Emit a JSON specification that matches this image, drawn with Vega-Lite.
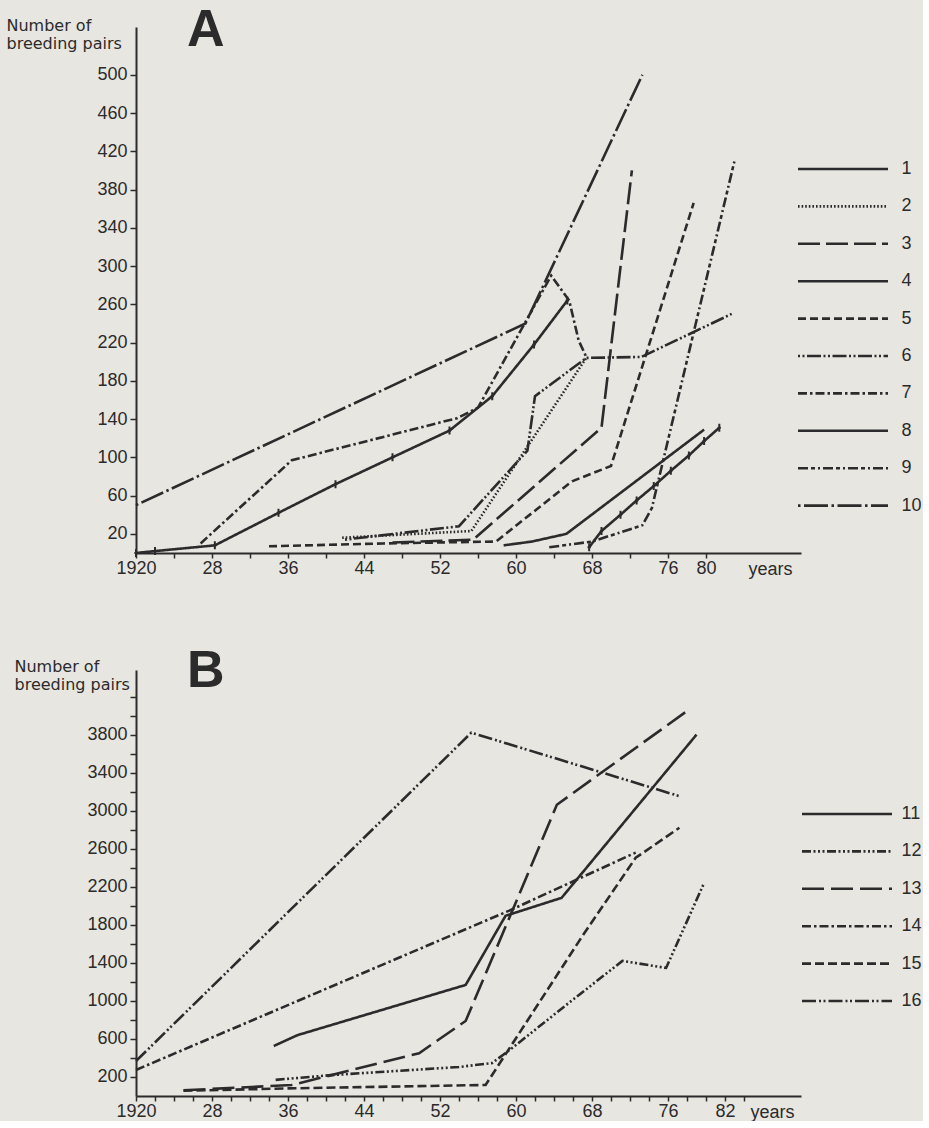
{
  "$schema": "https://vega.github.io/schema/vega-lite/v6.json",
  "background": "#e8e6e1",
  "padding": {"left": 6, "top": 4, "right": 0, "bottom": 0},
  "config": {
    "view": {"stroke": null},
    "font": "Liberation Sans",
    "axis": {"grid": false, "domainColor": "#2b2b2b", "tickColor": "#2b2b2b", "labelColor": "#2b2b2b", "titleColor": "#2b2b2b", "domainWidth": 2, "tickWidth": 1.5, "labelFont": "Liberation Sans", "labelFontSize": 18, "labelOverlap": false, "labelBound": false, "labelFlush": false},
    "legend": {"orient": "none", "title": null, "symbolType": "M-3,0H3", "symbolSize": 900, "symbolStrokeWidth": 2.6, "symbolStrokeColor": "#2b2b2b", "symbolFillColor": "transparent", "labelFont": "Liberation Sans", "labelFontSize": 18, "labelColor": "#2b2b2b", "labelOffset": 42, "rowPadding": 11.4},
    "title": {"font": "Liberation Sans", "fontSize": 52, "fontWeight": "bold", "color": "#2b2b2b", "anchor": "start", "frame": "group"}
  },
  "datasets": {
    "a": [
      {"s": "1", "year": 1920, "pairs": 0}, {"s": "1", "year": 1922, "pairs": 2}, {"s": "1", "year": 1928.3, "pairs": 8}, {"s": "1", "year": 1935, "pairs": 42}, {"s": "1", "year": 1941, "pairs": 72}, {"s": "1", "year": 1947, "pairs": 100}, {"s": "1", "year": 1953, "pairs": 128}, {"s": "1", "year": 1957.5, "pairs": 164}, {"s": "1", "year": 1961.9, "pairs": 218}, {"s": "1", "year": 1965.4, "pairs": 264},
      {"s": "2", "year": 1941.7, "pairs": 16}, {"s": "2", "year": 1955.3, "pairs": 23}, {"s": "2", "year": 1967.4, "pairs": 204},
      {"s": "3", "year": 1947, "pairs": 11}, {"s": "3", "year": 1955.5, "pairs": 14}, {"s": "3", "year": 1969, "pairs": 131}, {"s": "3", "year": 1972.2, "pairs": 400},
      {"s": "4", "year": 1958.7, "pairs": 8}, {"s": "4", "year": 1961.7, "pairs": 12}, {"s": "4", "year": 1965.3, "pairs": 20}, {"s": "4", "year": 1979.8, "pairs": 129},
      {"s": "5", "year": 1934, "pairs": 7}, {"s": "5", "year": 1946, "pairs": 10}, {"s": "5", "year": 1957.9, "pairs": 12}, {"s": "5", "year": 1965.9, "pairs": 75}, {"s": "5", "year": 1970, "pairs": 91}, {"s": "5", "year": 1978.7, "pairs": 366},
      {"s": "6", "year": 1942, "pairs": 14}, {"s": "6", "year": 1954, "pairs": 28}, {"s": "6", "year": 1961.2, "pairs": 107}, {"s": "6", "year": 1962, "pairs": 164}, {"s": "6", "year": 1967.4, "pairs": 204}, {"s": "6", "year": 1973.2, "pairs": 205}, {"s": "6", "year": 1982.7, "pairs": 250},
      {"s": "7", "year": 1926.8, "pairs": 10}, {"s": "7", "year": 1936.4, "pairs": 97}, {"s": "7", "year": 1953.8, "pairs": 141}, {"s": "7", "year": 1956, "pairs": 152}, {"s": "7", "year": 1963.7, "pairs": 290}, {"s": "7", "year": 1965.6, "pairs": 264}, {"s": "7", "year": 1966.6, "pairs": 222}, {"s": "7", "year": 1967.4, "pairs": 205},
      {"s": "8", "year": 1967.7, "pairs": 6}, {"s": "8", "year": 1969, "pairs": 23}, {"s": "8", "year": 1971, "pairs": 40}, {"s": "8", "year": 1972.7, "pairs": 55}, {"s": "8", "year": 1974.5, "pairs": 70}, {"s": "8", "year": 1976.3, "pairs": 86}, {"s": "8", "year": 1978.2, "pairs": 102}, {"s": "8", "year": 1979.8, "pairs": 117}, {"s": "8", "year": 1981.4, "pairs": 131},
      {"s": "9", "year": 1963.5, "pairs": 6}, {"s": "9", "year": 1968, "pairs": 12}, {"s": "9", "year": 1973.3, "pairs": 29}, {"s": "9", "year": 1974.3, "pairs": 47}, {"s": "9", "year": 1983, "pairs": 410},
      {"s": "10", "year": 1920, "pairs": 50}, {"s": "10", "year": 1961, "pairs": 240}, {"s": "10", "year": 1973.3, "pairs": 500}
    ],
    "b": [
      {"s": "11", "year": 1934.5, "pairs": 526}, {"s": "11", "year": 1937, "pairs": 640}, {"s": "11", "year": 1954.7, "pairs": 1168}, {"s": "11", "year": 1958.9, "pairs": 1895}, {"s": "11", "year": 1964.8, "pairs": 2084}, {"s": "11", "year": 1979, "pairs": 3800},
      {"s": "12", "year": 1934.7, "pairs": 170}, {"s": "12", "year": 1940.6, "pairs": 220}, {"s": "12", "year": 1954, "pairs": 305}, {"s": "12", "year": 1957.5, "pairs": 347}, {"s": "12", "year": 1959.6, "pairs": 505}, {"s": "12", "year": 1965.3, "pairs": 958}, {"s": "12", "year": 1971.2, "pairs": 1421}, {"s": "12", "year": 1975.8, "pairs": 1347}, {"s": "12", "year": 1979.8, "pairs": 2240},
      {"s": "13", "year": 1925, "pairs": 60}, {"s": "13", "year": 1936.4, "pairs": 116}, {"s": "13", "year": 1949.8, "pairs": 450}, {"s": "13", "year": 1954.7, "pairs": 789}, {"s": "13", "year": 1959.3, "pairs": 1874}, {"s": "13", "year": 1964.3, "pairs": 3063}, {"s": "13", "year": 1978.2, "pairs": 4063},
      {"s": "14", "year": 1920, "pairs": 274}, {"s": "14", "year": 1959.3, "pairs": 1950}, {"s": "14", "year": 1972.6, "pairs": 2560},
      {"s": "15", "year": 1925, "pairs": 55}, {"s": "15", "year": 1936, "pairs": 80}, {"s": "15", "year": 1956.8, "pairs": 116}, {"s": "15", "year": 1967, "pairs": 1684}, {"s": "15", "year": 1972.6, "pairs": 2505}, {"s": "15", "year": 1977.2, "pairs": 2821},
      {"s": "16", "year": 1920, "pairs": 368}, {"s": "16", "year": 1955.3, "pairs": 3821}, {"s": "16", "year": 1977.4, "pairs": 3147}
    ]
  },
  "bounds": "flush",
  "spacing": 117,
  "resolve": {"scale": {"x": "independent", "y": "independent", "strokeDash": "independent"}, "legend": {"strokeDash": "independent"}},
  "vconcat": [
    {
      "width": 665, "height": 526,
      "title": {"text": "A", "dx": 51, "offset": -40},
      "data": {"name": "a"},
      "layer": [
        {
          "mark": {"type": "line", "strokeWidth": 2.6, "color": "#2b2b2b", "strokeCap": "butt"},
          "encoding": {
            "x": {"field": "year", "type": "quantitative", "scale": {"domain": [1920, 1990], "nice": false, "zero": false},
              "axis": {"values": [1920,1922,1924,1926,1928,1930,1932,1934,1936,1938,1940,1942,1944,1946,1948,1950,1952,1954,1956,1958,1960,1962,1964,1966,1968,1970,1972,1974,1976,1978,1980,1982],
                "labelExpr": "indexof([1920,1928,1936,1944,1952,1960,1968,1976,1980], datum.value) >= 0 ? (datum.value == 1920 ? '1920' : substring(toString(datum.value), 2)) : ''",
                "tickSize": 5, "labelPadding": 1, "title": "years", "titleX": 634, "titleY": 7, "titleBaseline": "top", "titleAlign": "center", "titleFont": "Liberation Sans", "titleFontSize": 18, "titleFontWeight": "normal"}},
            "y": {"field": "pairs", "type": "quantitative", "scale": {"domain": [0, 550], "nice": false},
              "axis": {"values": [20,40,60,80,100,120,140,160,180,200,220,240,260,280,300,320,340,360,380,400,420,440,460,480,500,520],
                "labelExpr": "(datum.value - 20) % 40 == 0 && datum.value <= 500 ? datum.label : ''",
                "tickSize": 6, "labelPadding": 3,
                "title": ["Number  of", "breeding pairs"], "titleAngle": 0, "titleAlign": "left", "titleBaseline": "top", "titleX": -130, "titleY": -10, "titleFont": "DejaVu Sans", "titleFontSize": 16, "titleFontWeight": "normal", "titleLineHeight": 18}},
            "strokeDash": {"field": "s", "type": "nominal",
              "scale": {"domain": ["1","2","3","4","5","6","7","8","9","10"],
                "range": [[1,0],[1.6,2],[22,6],[1,0],[8,4],[2,2.5,2,2.5,14,2.5],[9,3,2.5,3],[1,0],[10,3,4,3,2,3],[2.5,3.5,24,3.5]]},
              "legend": {"legendX": 690.5, "legendY": 125.5}}
          }
        },
        {
          "transform": [{"filter": "datum.s == '1' || datum.s == '8'"}],
          "mark": {"type": "point", "shape": "M0,-1V1M-0.4,0H0.4", "size": 64, "strokeWidth": 2, "color": "#2b2b2b", "opacity": 1, "filled": false},
          "encoding": {
            "x": {"field": "year", "type": "quantitative"},
            "y": {"field": "pairs", "type": "quantitative"}
          }
        }
      ]
    },
    {
      "width": 665, "height": 426,
      "title": {"text": "B", "dx": 51, "offset": -40},
      "data": {"name": "b"},
      "layer": [
        {
          "mark": {"type": "line", "strokeWidth": 2.6, "color": "#2b2b2b", "strokeCap": "butt"},
          "encoding": {
            "x": {"field": "year", "type": "quantitative", "scale": {"domain": [1920, 1990], "nice": false, "zero": false},
              "axis": {"values": [1920,1922,1924,1926,1928,1930,1932,1934,1936,1938,1940,1942,1944,1946,1948,1950,1952,1954,1956,1958,1960,1962,1964,1966,1968,1970,1972,1974,1976,1978,1980,1982,1984],
                "labelExpr": "indexof([1920,1928,1936,1944,1952,1960,1968,1976,1982], datum.value) >= 0 ? (datum.value == 1920 ? '1920' : substring(toString(datum.value), 2)) : ''",
                "tickSize": 5, "labelPadding": 1, "title": "years", "titleX": 636, "titleY": 7, "titleBaseline": "top", "titleAlign": "center", "titleFont": "Liberation Sans", "titleFontSize": 18, "titleFontWeight": "normal"}},
            "y": {"field": "pairs", "type": "quantitative", "scale": {"domain": [0, 4480], "nice": false},
              "axis": {"values": [200,400,600,800,1000,1200,1400,1600,1800,2000,2200,2400,2600,2800,3000,3200,3400,3600,3800,4000,4200],
                "labelExpr": "(datum.value - 200) % 400 == 0 && datum.value <= 3800 ? datum.label : ''",
                "format": "d",
                "tickSize": 6, "labelPadding": 3,
                "title": ["Number  of", "breeding pairs"], "titleAngle": 0, "titleAlign": "left", "titleBaseline": "top", "titleX": -122, "titleY": -12, "titleFont": "DejaVu Sans", "titleFontSize": 16, "titleFontWeight": "normal", "titleLineHeight": 18}},
            "strokeDash": {"field": "s", "type": "nominal",
              "scale": {"domain": ["11","12","13","14","15","16"],
                "range": [[1,0],[9,2.5,2,2.5,2,2.5,2,2.5],[22,7],[9,3,2.5,3],[9,4],[14,3,2,2.5,2,3]]},
              "legend": {"legendX": 694.5, "legendY": 127.5, "labelOffset": 38}}
          }
        }
      ]
    }
  ]
}
